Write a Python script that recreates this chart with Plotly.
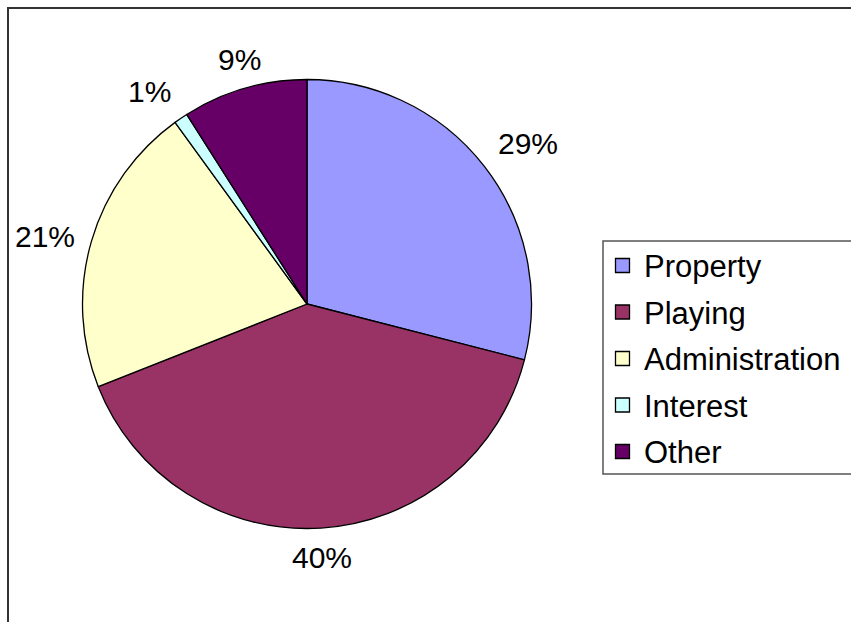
import math
import plotly.graph_objects as go

# Expenditure breakdown (percent)
categories = ["Property", "Playing", "Administration", "Interest", "Other"]
shares = [29, 40, 21, 1, 9]
colors = ["#9999FF", "#993366", "#FFFFCC", "#CCFFFF", "#660066"]

W, H = 851, 622
FONT = "Liberation Sans, Arial, sans-serif"
cx, cy, R = 307, 304, 224.5          # pie centre / radius in pixels
label_size = 30

def px(x):
    return x / W

def py(y):
    return 1 - y / H

fig = go.Figure(go.Pie(
    labels=categories,
    values=shares,
    sort=False,
    direction="clockwise",
    rotation=0,
    marker=dict(colors=colors, line=dict(color="#000000", width=1.3)),
    textinfo="none",
    hoverinfo="label+percent",
    showlegend=False,
    domain=dict(x=[px(cx - R), px(cx + R)], y=[py(cy + R), py(cy - R)]),
))

annotations = []
shapes = []

# percentage labels placed just outside each slice's mid-angle
total = sum(shares)
cum = 0
r_lab = 242
for v in shares:
    mid = (cum + v / 2) / total * 2 * math.pi
    cum += v
    s, c = math.sin(mid), math.cos(mid)
    txt = f"{round(v / total * 100)}%"
    ndig = len(txt) - 1
    tw = label_size * (0.556 * ndig + 0.889)
    th = label_size * 0.8
    x = cx + r_lab * s
    y = cy - r_lab * c
    if s > 0.3:
        x += tw / 2
    elif s < -0.3:
        x -= tw / 2
    if c > 0.3:
        y -= th / 2
    elif c < -0.3:
        y += th / 2
    annotations.append(dict(
        x=px(x), y=py(y), xref="paper", yref="paper",
        text=txt, showarrow=False, xanchor="center", yanchor="middle",
        font=dict(family=FONT, size=label_size, color="#000000"),
    ))

# outer chart frame
shapes.append(dict(type="rect", xref="paper", yref="paper",
                   x0=px(8), x1=px(W + 10), y0=py(H + 10), y1=py(8),
                   line=dict(color="#333333", width=2), fillcolor="rgba(0,0,0,0)"))

# legend box with swatches and names
lx0, ly0, ly1 = 603, 241, 474
shapes.append(dict(type="rect", xref="paper", yref="paper",
                   x0=px(lx0), x1=px(W + 5), y0=py(ly1), y1=py(ly0),
                   line=dict(color="#555555", width=1.5), fillcolor="#FFFFFF"))
row0, row_step = 265.5, 46.5
for i, (name, col) in enumerate(zip(categories, colors)):
    yc = row0 + i * row_step
    shapes.append(dict(type="rect", xref="paper", yref="paper",
                       x0=px(615.5), x1=px(629.5), y0=py(yc + 7), y1=py(yc - 7),
                       line=dict(color="#000000", width=1.3), fillcolor=col))
    annotations.append(dict(
        x=px(642), y=py(yc + 1), xref="paper", yref="paper",
        text=name, showarrow=False, xanchor="left", yanchor="middle",
        font=dict(family=FONT, size=31, color="#000000"),
    ))

fig.update_layout(
    width=W, height=H,
    margin=dict(l=0, r=0, t=0, b=0),
    paper_bgcolor="#FFFFFF",
    plot_bgcolor="#FFFFFF",
    annotations=annotations,
    shapes=shapes,
)

fig.write_html("out.html")
